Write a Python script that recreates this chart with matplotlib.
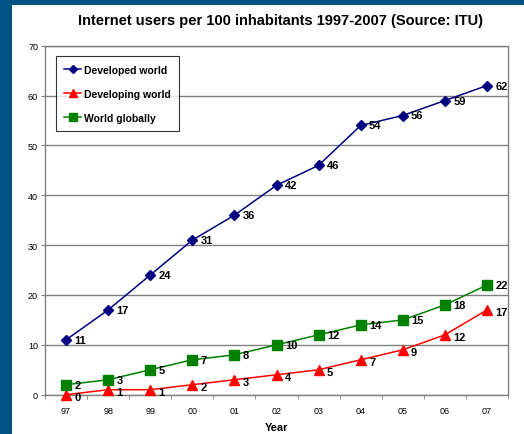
import matplotlib
matplotlib.use("Agg")
import matplotlib.pyplot as plt
from matplotlib.patches import Rectangle

years = ["97", "98", "99", "00", "01", "02", "03", "04", "05", "06", "07"]
developed = [11, 17, 24, 31, 36, 42, 46, 54, 56, 59, 62]
developing = [0, 1, 1, 2, 3, 4, 5, 7, 9, 12, 17]
world = [2, 3, 5, 7, 8, 10, 12, 14, 15, 18, 22]

plt.rcParams['font.family'] = ['Liberation Sans', 'DejaVu Sans']

W, H = 524, 435
fig = plt.figure(figsize=(W / 100, H / 100), dpi=100)
fig.patch.set_facecolor('#015483')
fig.add_artist(Rectangle((12 / W, 0), 1, 1 - 6 / H, transform=fig.transFigure,
                         facecolor='white', edgecolor='none', zorder=0))

ax = fig.add_axes([45 / W, 1 - 395.7 / H, (508 - 45) / W, (395.7 - 46.7) / H])
ax.set_facecolor('white')
x = list(range(len(years)))

series = [
    (developed, 'Developed world', '#000080', 'D', 5.5, 0),
    (developing, 'Developing world', '#ff0000', '^', 7.5, -1.5),
    (world, 'World globally', '#008000', 's', 6.5, 0),
]
for vals, name, col, mk, ms, dy in series:
    ax.plot(x, vals, color=col, marker=mk, markersize=ms, linewidth=1.1,
            label=name, zorder=3, clip_on=False)
    for xi, v in zip(x, vals):
        ax.annotate(str(v), (xi, v), xytext=(6, dy), textcoords='offset points',
                    fontsize=8, fontweight='bold', va='center', ha='left',
                    color='black', zorder=4)

ax.set_xlim(-0.5, len(years) - 0.5)
ax.set_ylim(0, 70)
ax.set_yticks(range(0, 71, 10))
ax.tick_params(axis='y', labelsize=6.5, length=3, color='#808080', pad=2)
ax.set_xticks(x)
ax.set_xticklabels(years)
ax.tick_params(axis='x', which='major', length=0, labelsize=6.5, pad=8)
ax.set_xticks([i + 0.5 for i in range(-1, len(years))], minor=True)
ax.tick_params(axis='x', which='minor', length=3, color='#808080')
ax.yaxis.grid(True, color='#808080', linewidth=1)
ax.set_axisbelow(True)
for s in ax.spines.values():
    s.set_color('#808080')
    s.set_linewidth(1)

ax.set_xlabel('Year', fontsize=8, fontweight='bold', labelpad=5)

leg = ax.legend(loc='upper left', bbox_to_anchor=(0.024, 0.97),
                prop={'weight': 'bold', 'size': 7.5}, frameon=True, fancybox=False,
                edgecolor='black', labelspacing=1.35, handlelength=1.6,
                handletextpad=0.3, borderpad=0.8, borderaxespad=0, markerscale=0.8)
leg.get_frame().set_linewidth(0.8)

fig.text(0.535, 1 - 21 / H, 'Internet users per 100 inhabitants 1997-2007 (Source: ITU)',
         ha='center', va='center', fontsize=10.5, fontweight='bold')

fig.savefig('out.png', dpi=100, facecolor=fig.get_facecolor())
